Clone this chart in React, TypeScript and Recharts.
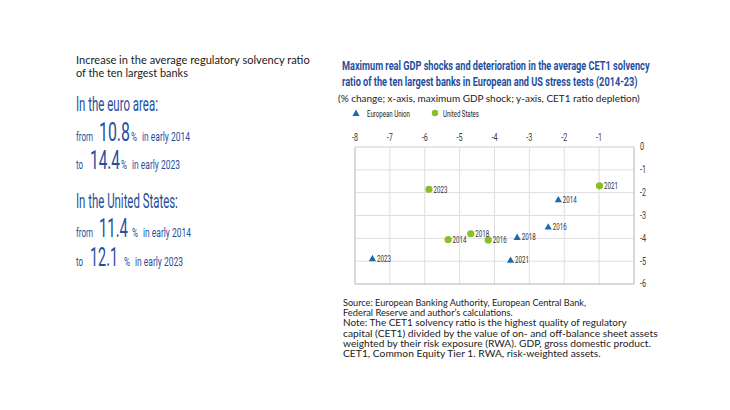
import React, { useLayoutEffect, useRef, useState } from "react";
import {
  CartesianGrid,
  LabelList,
  ReferenceLine,
  Scatter,
  ScatterChart,
  XAxis,
  YAxis,
} from "recharts";

const euYears = ["2014", "2016", "2018", "2021", "2023"];
const euGdpShock = [-2.17, -2.46, -3.35, -3.54, -7.5];
const euCet1Drop = [-2.3, -3.5, -3.95, -4.95, -4.88];

const usYears = ["2014", "2016", "2018", "2021", "2023"];
const usGdpShock = [-5.33, -4.18, -4.68, -0.99, -5.88];
const usCet1Drop = [-4.05, -4.07, -3.8, -1.7, -1.85];

const xTicks = [-8, -7, -6, -5, -4, -3, -2, -1, 0];
const yTicks = [0, -1, -2, -3, -4, -5, -6];

const euData = euYears.map((year, i) => ({ year, x: euGdpShock[i], y: euCet1Drop[i] }));
const usData = usYears.map((year, i) => ({ year, x: usGdpShock[i], y: usCet1Drop[i] }));

const BLUE = "#1f4f9e";
const EU_COLOR = "#1b6aa9";
const US_COLOR = "#8bbd24";
const NARROW = "Roboto, sans-serif";
const BOOK = "Lato, 'Open Sans', sans-serif";

// svg text squeezed horizontally to a given width (the original uses a condensed face)
function T({ x, y, w, size, children, fill = BLUE, family = NARROW, weight = 400 }: any) {
  const ref = useRef<SVGTextElement>(null);
  const [sx, setSx] = useState(1);
  useLayoutEffect(() => {
    const n = ref.current ? ref.current.getComputedTextLength() : 0;
    if (n > 0) setSx(w / n);
  }, [w, children]);
  return (
    <text
      ref={ref}
      x={0}
      y={0}
      transform={`translate(${x},${y}) scale(${sx},1)`}
      fontSize={size}
      fontFamily={family}
      fontWeight={weight}
      fill={fill}
    >
      {children}
    </text>
  );
}

function Triangle(props: any) {
  const { cx, cy } = props;
  const s = 3.6;
  return (
    <path
      d={`M${cx},${cy - s} L${cx + s},${cy + s * 0.75} L${cx - s},${cy + s * 0.75} Z`}
      fill={EU_COLOR}
    />
  );
}

function Dot(props: any) {
  const { cx, cy } = props;
  return <circle cx={cx} cy={cy} r={3.6} fill={US_COLOR} />;
}

function XTick(props: any) {
  const { x, y, payload } = props;
  if (payload.value === 0) return null;
  return (
    <text x={x} y={y} textAnchor="middle" fontSize={10} fontFamily={NARROW} fill="#3a3a3a"
      transform={`translate(${x},0) scale(0.72,1) translate(${-x},0)`}>
      {String(payload.value)}
    </text>
  );
}

function YTick(props: any) {
  const { x, y, payload } = props;
  return (
    <text x={x} y={y + 3.5} textAnchor="start" fontSize={10} fontFamily={NARROW} fill="#3a3a3a"
      transform={`translate(${x},0) scale(0.72,1) translate(${-x},0)`}>
      {String(payload.value)}
    </text>
  );
}

function YearLabel(props: any) {
  const { x, y, width, height, value } = props;
  const cx = x + width / 2;
  const cy = y + height / 2;
  return (
    <T x={cx + 4.5} y={cy + 3.3} w={14} size={9.5} fill="#333">
      {value}
    </T>
  );
}

const sourceLines = [
  { text: "Source: European Banking Authority, European Central Bank,", w: 243 },
  { text: "Federal Reserve and author’s calculations.", w: 170 },
  { text: "Note: The CET1 solvency ratio is the highest quality of regulatory", w: 284 },
  { text: "capital (CET1) divided by the value of on- and off-balance sheet assets", w: 315 },
  { text: "weighted by their risk exposure (RWA). GDP, gross domestic product.", w: 308 },
  { text: "CET1, Common Equity Tier 1. RWA, risk-weighted assets.", w: 258 },
];

export default function App() {
  return (
    <div style={{ position: "absolute", left: 0, top: 0, width: 730, height: 410, background: "#fff" }}>
      <svg width={730} height={410} style={{ position: "absolute", left: 0, top: 0 }}>
        {/* left panel */}
        <T x={76} y={64} w={234} size={11} family={BOOK} fill="#222">Increase in the average regulatory solvency ratio</T>
        <T x={76} y={77} w={112} size={11} family={BOOK} fill="#222">of the ten largest banks</T>

        <T x={76} y={111} w={82} size={20}>In the euro area:</T>
        <T x={76} y={141} w={17} size={12.5}>from</T>
        <T x={99} y={141} w={31} size={25}>10.8</T>
        <T x={131} y={141} w={6} size={12.5}>%</T>
        <T x={142} y={141} w={48} size={12.5}>in early 2014</T>
        <T x={76} y={169} w={7} size={12.5}>to</T>
        <T x={90} y={169} w={30} size={25}>14.4</T>
        <T x={121} y={169} w={6} size={12.5}>%</T>
        <T x={132} y={169} w={48} size={12.5}>in early 2023</T>

        <T x={76} y={208} w={102} size={20}>In the United States:</T>
        <T x={76} y={237} w={17} size={12.5}>from</T>
        <T x={99} y={237} w={29} size={25}>11.4</T>
        <T x={132} y={237} w={6} size={12.5}>%</T>
        <T x={143} y={237} w={48} size={12.5}>in early 2014</T>
        <T x={76} y={266} w={7} size={12.5}>to</T>
        <T x={90} y={266} w={28} size={25}>12.1</T>
        <T x={124} y={266} w={6} size={12.5}>%</T>
        <T x={135} y={266} w={48} size={12.5}>in early 2023</T>

        {/* right panel headings */}
        <T x={342} y={70} w={308} size={12} weight={700}>Maximum real GDP shocks and deterioration in the average CET1 solvency</T>
        <T x={342} y={86} w={296} size={12} weight={700}>ratio of the ten largest banks in European and US stress tests (2014-23)</T>
        <T x={338} y={101.5} w={302} size={10} family={BOOK} fill="#222">(% change; x-axis, maximum GDP shock; y-axis, CET1 ratio depletion)</T>

        <path d="M356,109.5 L359.5,116 L352.5,116 Z" fill={EU_COLOR} />
        <T x={367} y={116.5} w={43} size={9} fill="#222">European Union</T>
        <circle cx={435} cy={113} r={3.2} fill={US_COLOR} />
        <T x={443} y={116.5} w={36} size={9} fill="#222">United States</T>

        {sourceLines.map((l, i) => (
          <T key={i} x={343} y={306 + i * 10.2} w={l.w} size={8.8} family={BOOK} fill="#222">{l.text}</T>
        ))}
      </svg>

      <div style={{ position: "absolute", left: 340, top: 125 }}>
        <ScatterChart width={320} height={170} margin={{ top: 4, right: 4, bottom: 11, left: 15 }}>
          <CartesianGrid stroke="#dedede" />
          <XAxis
            type="number"
            dataKey="x"
            orientation="top"
            domain={[-8, 0]}
            ticks={xTicks}
            interval={0}
            height={18}
            tickSize={4}
            tickMargin={2}
            tickLine={false}
            axisLine={{ stroke: "#dedede" }}
            tick={XTick}
          />
          <YAxis
            type="number"
            dataKey="y"
            orientation="right"
            domain={[-6, 0]}
            ticks={yTicks}
            interval={0}
            width={22}
            tickSize={4}
            tickMargin={2}
            tickLine={false}
            axisLine={{ stroke: "#c4c4c4" }}
            tick={YTick}
          />
          <ReferenceLine x={-8} stroke="#c4c4c4" />
          <ReferenceLine y={-6} stroke="#c4c4c4" />
          <Scatter data={euData} shape={Triangle} isAnimationActive={false}>
            <LabelList dataKey="year" content={YearLabel} />
          </Scatter>
          <Scatter data={usData} shape={Dot} isAnimationActive={false}>
            <LabelList dataKey="year" content={YearLabel} />
          </Scatter>
        </ScatterChart>
      </div>
    </div>
  );
}
